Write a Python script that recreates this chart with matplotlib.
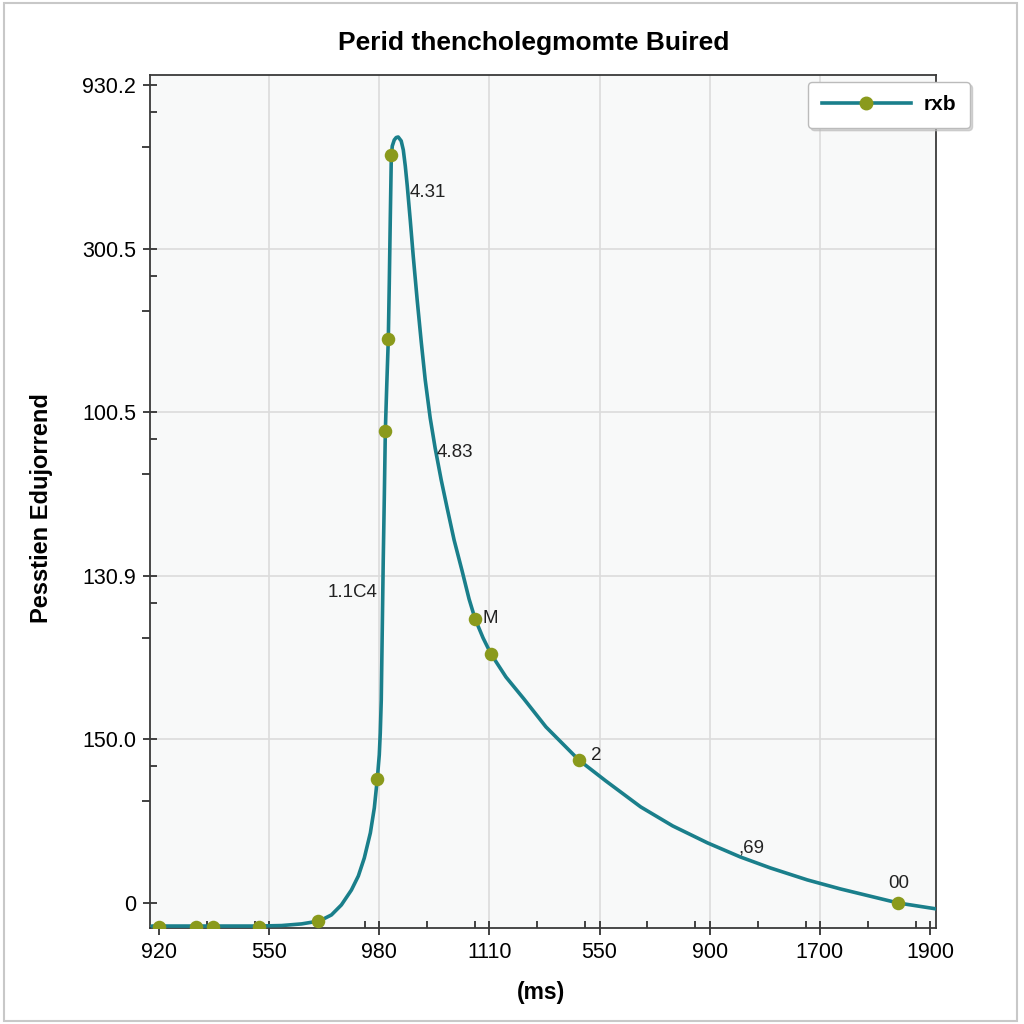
import matplotlib.pyplot as plt
from matplotlib.lines import Line2D
from matplotlib.patches import Rectangle

plt.rcParams['font.family'] = ['Liberation Sans', 'DejaVu Sans']

# category positions 0..7 on x, 0..5 on y
x_labels = ['920', '550', '980', '1110', '550', '900', '1700', '1900']
y_labels = ['0', '150.0', '130.9', '100.5', '300.5', '930.2']

curve_x = [-0.063, 0.906, 1.114, 1.295, 1.458, 1.567, 1.657, 1.748, 1.811,
           1.865, 1.920, 1.956, 1.983, 2.001, 2.010, 2.019, 2.028, 2.037,
           2.047, 2.056, 2.069, 2.083, 2.092, 2.101, 2.110, 2.119, 2.137,
           2.155, 2.173, 2.200, 2.219, 2.237, 2.255, 2.282, 2.309, 2.345,
           2.382, 2.418, 2.463, 2.508, 2.563, 2.617, 2.680, 2.753, 2.816,
           2.871, 2.943, 3.015, 3.151, 3.314, 3.514, 3.812, 4.057, 4.374,
           4.664, 4.981, 5.279, 5.551, 5.886, 6.185, 6.484, 6.710, 7.063]
curve_y = [-0.141, -0.141, -0.138, -0.128, -0.110, -0.073, -0.012, 0.079,
           0.165, 0.275, 0.428, 0.581, 0.758, 0.905, 1.039, 1.241, 1.669,
           2.097, 2.494, 2.885, 3.166, 3.447, 3.796, 4.187, 4.554, 4.627,
           4.664, 4.679, 4.682, 4.658, 4.603, 4.505, 4.383, 4.175, 3.955,
           3.686, 3.429, 3.197, 2.965, 2.781, 2.586, 2.414, 2.219, 2.029,
           1.858, 1.736, 1.620, 1.522, 1.381, 1.247, 1.076, 0.874, 0.746,
           0.587, 0.471, 0.367, 0.281, 0.214, 0.141, 0.086, 0.037, 0.000,
           -0.037]

point_x = [0.0, 0.335, 0.489, 0.906, 1.449, 1.983, 2.056, 2.083, 2.110,
           2.871, 3.015, 3.812, 6.710]
point_y = [-0.144, -0.144, -0.144, -0.144, -0.110, 0.758, 2.885, 3.447,
           4.572, 1.736, 1.522, 0.874, 0.000]

notes = ['4.31', '4.83', '1.1C4', 'M', '2', ',69', '00']
note_x = [2.273, 2.517, 1.983, 2.934, 3.921, 5.261, 6.719]
note_y = [4.340, 2.751, 1.895, 1.736, 0.899, 0.336, 0.122]
note_ha = ['left', 'left', 'right', 'left', 'left', 'left', 'center']

line_color = '#1a7f8b'
dot_color = '#8a9a1c'

fig = plt.figure(figsize=(10.24, 10.24), dpi=100)
fig.patches.append(Rectangle((4 / 1024, 3 / 1024), 1013 / 1024, 1018 / 1024,
                             transform=fig.transFigure, fill=False,
                             edgecolor='#c8c8c8', lw=1.5))
ax = fig.add_axes([150 / 1024, 96 / 1024, 786 / 1024, 853 / 1024])
ax.set_facecolor('#f8f9f9')

ax.plot(curve_x, curve_y, color=line_color, lw=2.6, zorder=3,
        solid_capstyle='round', solid_joinstyle='round')
ax.scatter(point_x, point_y, s=95, color=dot_color, zorder=4, linewidths=0)

for t, x, y, ha in zip(notes, note_x, note_y, note_ha):
    ax.text(x, y, t, ha=ha, va='center', fontsize=13.5, color='#222222',
            zorder=5)

ax.set_xlim(-0.08, 7.054)
ax.set_ylim(-0.153, 5.061)

ax.set_xticks(range(len(x_labels)))
ax.set_xticklabels(x_labels)
ax.set_yticks(range(len(y_labels)))
ax.set_yticklabels(y_labels)
ax.set_xticks([k + 0.435 for k in range(7)] + [k + 0.87 for k in range(7)],
              minor=True)
ax.set_yticks([k - 0.165 for k in range(1, 6)], minor=True)
ax.tick_params(which='major', direction='inout', length=10, width=1.3,
               labelsize=15.5, color='#333333', pad=5)
ax.tick_params(which='minor', direction='in', length=5, width=1.3,
               color='#333333')

# outward minor ticks on the y axis
sec = ax.secondary_yaxis('left')
sec.set_yticks([k - 0.379 for k in range(1, 6)])
sec.set_yticklabels([])
sec.tick_params(direction='out', length=6, width=1.3, color='#333333')
sec.spines['left'].set_visible(False)

ax.grid(True, which='major', color='#dcdcdc', lw=1.2, zorder=0)
ax.set_axisbelow(True)
for i in (0, 7):
    ax.xaxis.get_gridlines()[i].set_visible(False)
for i in (0, 5):
    ax.yaxis.get_gridlines()[i].set_visible(False)

for sp in ax.spines.values():
    sp.set_color('#3a3a3a')
    sp.set_linewidth(1.3)

handle = Line2D([], [], color=line_color, lw=2.6, marker='o', markersize=9,
                markerfacecolor=dot_color, markeredgecolor=dot_color)
ax.legend([handle], ['rxb'], loc='upper right', bbox_to_anchor=(1.043, 0.992),
          borderaxespad=0, fancybox=True, framealpha=1, edgecolor='#bbbbbb',
          prop={'weight': 'bold', 'size': 15}, handlelength=4.3,
          borderpad=0.65, handletextpad=0.6,
          shadow={'color': '#bbbbbb', 'alpha': 0.6})

fig.text(534 / 1024, 1 - 43 / 1024, 'Perid thencholegmomte Buired',
         ha='center', va='center', fontsize=19, fontweight='bold')
fig.text(42 / 1024, 1 - 508 / 1024, 'Pesstien Edujorrend', rotation=90,
         ha='center', va='center', fontsize=17, fontweight='bold')
fig.text(541 / 1024, 1 - 993 / 1024, '(ms)', ha='center', va='center',
         fontsize=16.5, fontweight='bold')

fig.savefig('out.png', dpi=100, facecolor='white')
